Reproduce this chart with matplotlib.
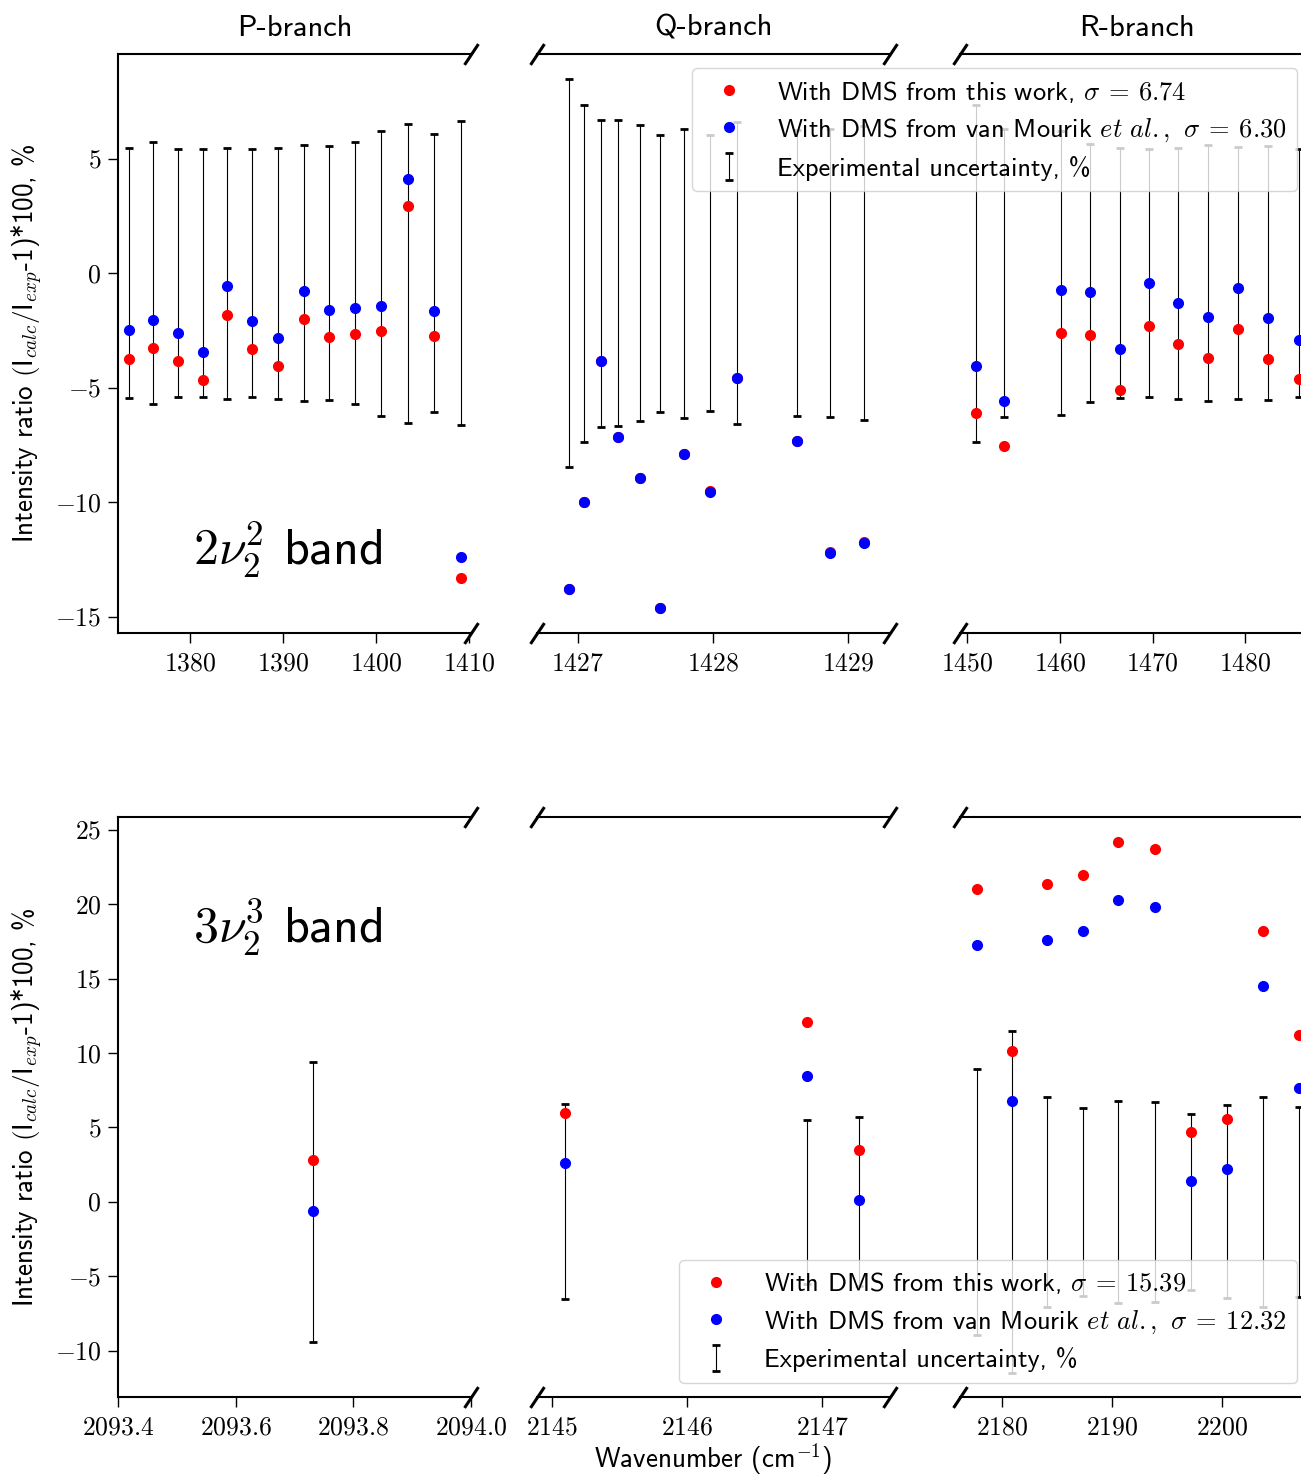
import matplotlib
matplotlib.use('Agg')
import matplotlib.pyplot as plt
from matplotlib.ticker import FuncFormatter, MultipleLocator

plt.rcParams['mathtext.fontset'] = 'cm'
plt.rcParams['font.family'] = ['cmss10', 'DejaVu Sans']
plt.rcParams['axes.unicode_minus'] = False

# ---------------- 2nu2^2 band (top row) ----------------
p2_x = [1373.42, 1376.0, 1378.7, 1381.4, 1384.0, 1386.7, 1389.5, 1392.2, 1394.9, 1397.7, 1400.5, 1403.4, 1406.2, 1409.1]
p2_red = [-3.76, -3.28, -3.84, -4.67, -1.83, -3.32, -4.06, -2.01, -2.79, -2.66, -2.53, 2.93, -2.75, -13.32]
p2_blue = [-2.49, -2.05, -2.62, -3.45, -0.57, -2.10, -2.84, -0.79, -1.62, -1.53, -1.44, 4.10, -1.66, -12.40]
p2_unc = [5.45, 5.70, 5.42, 5.42, 5.48, 5.42, 5.48, 5.58, 5.53, 5.70, 6.22, 6.52, 6.07, 6.64]

q2_x = [1426.94, 1427.05, 1427.17, 1427.30, 1427.46, 1427.61, 1427.79, 1427.98, 1428.18, 1428.62, 1428.87, 1429.12]
q2_red = [-13.79, -9.99, -3.82, -7.17, -8.94, -14.59, -7.89, -9.51, -4.59, -7.32, -12.16, -11.75]
q2_blue = [-13.79, -9.99, -3.82, -7.17, -8.94, -14.59, -7.89, -9.54, -4.59, -7.32, -12.19, -11.78]
q2_unc = [8.45, 7.35, 6.70, 6.66, 6.45, 6.04, 6.30, 6.03, 6.58, 6.23, 6.27, 6.42]

r2_x = [1450.94, 1453.99, 1460.17, 1463.30, 1466.47, 1469.60, 1472.79, 1476.03, 1479.23, 1482.47, 1485.81]
r2_red = [-6.10, -7.52, -2.63, -2.72, -5.08, -2.30, -3.11, -3.72, -2.45, -3.74, -4.64]
r2_blue = [-4.05, -5.57, -0.72, -0.83, -3.29, -0.45, -1.30, -1.93, -0.66, -1.97, -2.92]
r2_unc = [7.35, 6.29, 6.21, 5.62, 5.45, 5.41, 5.47, 5.57, 5.49, 5.53, 5.40]

# ---------------- 3nu2^3 band (bottom row) ----------------
p3_x = [2093.732]
p3_red = [2.80]
p3_blue = [-0.63]
p3_unc = [9.38]

q3_x = [2145.10, 2146.89, 2147.27]
q3_red = [5.97, 12.08, 3.46]
q3_blue = [2.60, 8.46, 0.16]
q3_unc = [6.55, 5.49, 5.67]

r3_x = [2177.72, 2180.91, 2184.10, 2187.33, 2190.57, 2193.86, 2197.17, 2200.48, 2203.79, 2207.05]
r3_red = [20.99, 10.15, 21.35, 21.98, 24.15, 23.67, 4.71, 5.58, 18.22, 11.18]
r3_blue = [17.26, 6.75, 17.56, 18.19, 20.27, 19.78, 1.42, 2.24, 14.48, 7.62]
r3_unc = [8.95, 11.47, 7.05, 6.33, 6.81, 6.69, 5.91, 6.48, 7.05, 6.39]

branch_titles = ['P-branch', 'Q-branch', 'R-branch']
sigma_top = ['6.74', '6.30']
sigma_bottom = ['15.39', '12.32']

W, H = 1301, 1478
fig = plt.figure(figsize=(W / 100, H / 100), dpi=100)

col_left = [118, 537, 960]
col_w = 353
rows = [(54, 633), (817, 1397)]

def make_ax(col, row):
    l = col_left[col] / W
    top, bot = rows[row]
    return fig.add_axes([l, 1 - bot / H, col_w / W, (bot - top) / H])

FS = 18.5

def style(ax, col, xloc, xfmt, ylim, xlim):
    ax.set_xlim(*xlim)
    ax.set_ylim(*ylim)
    ax.xaxis.set_major_locator(MultipleLocator(xloc))
    ax.xaxis.set_major_formatter(FuncFormatter(xfmt))
    ax.yaxis.set_major_locator(MultipleLocator(5))
    ax.yaxis.set_major_formatter(FuncFormatter(lambda v, p: f"${v:g}$"))
    ax.tick_params(labelsize=FS, length=7, width=1.0, direction='out')
    ax.tick_params(axis='x', pad=7)
    ax.tick_params(axis='y', pad=5)
    for s in ax.spines.values():
        s.set_linewidth(1.5)
    if col in (0, 1):
        ax.spines['right'].set_visible(False)
    if col in (1, 2):
        ax.spines['left'].set_visible(False)
        ax.tick_params(axis='y', left=False, labelleft=False)
    ax.tick_params(axis='x', top=False)
    d = 1.5
    kw = dict(marker=[(-1, -d), (1, d)], markersize=15, linestyle='none',
              color='k', mec='k', mew=2.2, clip_on=False)
    sides = {0: [1], 1: [0, 1], 2: [0]}[col]
    for x in sides:
        ax.plot([x, x], [0, 1], transform=ax.transAxes, **kw)

def draw(ax, x, red, blue, unc):
    eb = ax.errorbar(x, [0] * len(x), yerr=unc, fmt='none', ecolor='k',
                     elinewidth=0.8, capsize=2.6, capthick=2.0)
    r, = ax.plot(x, red, 'o', color='red', ms=7, linestyle='none')
    b, = ax.plot(x, blue, 'o', color='blue', ms=7, linestyle='none')
    return r, b, eb

fmt_int = lambda v, p: f"${v:g}$"
fmt_1 = lambda v, p: f"${v:.1f}$"

top_ylim = (-15.7, 9.56)
bot_ylim = (-13.1, 25.85)

axes_top = [make_ax(i, 0) for i in range(3)]
axes_bot = [make_ax(i, 1) for i in range(3)]

draw(axes_top[0], p2_x, p2_red, p2_blue, p2_unc)
draw(axes_top[1], q2_x, q2_red, q2_blue, q2_unc)
h_top = draw(axes_top[2], r2_x, r2_red, r2_blue, r2_unc)
style(axes_top[0], 0, 10, fmt_int, top_ylim, (1372.25, 1410.2))
style(axes_top[1], 1, 1, fmt_int, top_ylim, (1426.70, 1429.31))
style(axes_top[2], 2, 10, fmt_int, top_ylim, (1449.25, 1487.3))

draw(axes_bot[0], p3_x, p3_red, p3_blue, p3_unc)
draw(axes_bot[1], q3_x, q3_red, q3_blue, q3_unc)
h_bot = draw(axes_bot[2], r3_x, r3_red, r3_blue, r3_unc)
style(axes_bot[0], 0, 0.2, fmt_1, bot_ylim, (2093.4, 2094.0))
style(axes_bot[1], 1, 1, fmt_int, bot_ylim, (2144.89, 2147.50))
style(axes_bot[2], 2, 10, fmt_int, bot_ylim, (2176.14, 2208.3))

for ax, t in zip(axes_top, branch_titles):
    ax.set_title(t, fontsize=22, pad=13)

ylab = r"Intensity ratio $(\mathsf{I}_{calc}/\mathsf{I}_{exp}$-1)*100, %"
axes_top[0].set_ylabel(ylab, fontsize=19.5, labelpad=7)
axes_bot[0].set_ylabel(ylab, fontsize=19.5, labelpad=7)
axes_bot[1].set_xlabel(r"Wavenumber (cm$^{-1}$)", fontsize=19.5, labelpad=1)

axes_top[0].text(0.213, 0.117, r"$2\nu_2^2$ band", transform=axes_top[0].transAxes,
                 fontsize=36, va='baseline', ha='left')
axes_bot[0].text(0.213, 0.783, r"$3\nu_2^3$ band", transform=axes_bot[0].transAxes,
                 fontsize=36, va='baseline', ha='left')

def labels(sig):
    return [rf"With DMS from this work, $\sigma\:=\:{sig[0]}$",
            rf"With DMS from van Mourik $et\ al.,$ $\sigma\:=\:{sig[1]}$",
            "Experimental uncertainty, %"]

fig.legend(handles=[h_top[0], h_top[1], h_top[2]], labels=labels(sigma_top),
           loc='upper right', bbox_to_anchor=(1297 / W, 1 - 68 / H),
           borderaxespad=0, numpoints=1, fontsize=19, framealpha=0.8,
           labelspacing=0.45)
fig.legend(handles=[h_bot[0], h_bot[1], h_bot[2]], labels=labels(sigma_bottom),
           loc='lower right', bbox_to_anchor=(1297 / W, 1 - 1383 / H),
           borderaxespad=0, numpoints=1, fontsize=19, framealpha=0.8,
           labelspacing=0.45)

fig.savefig('out.png', dpi=100)
